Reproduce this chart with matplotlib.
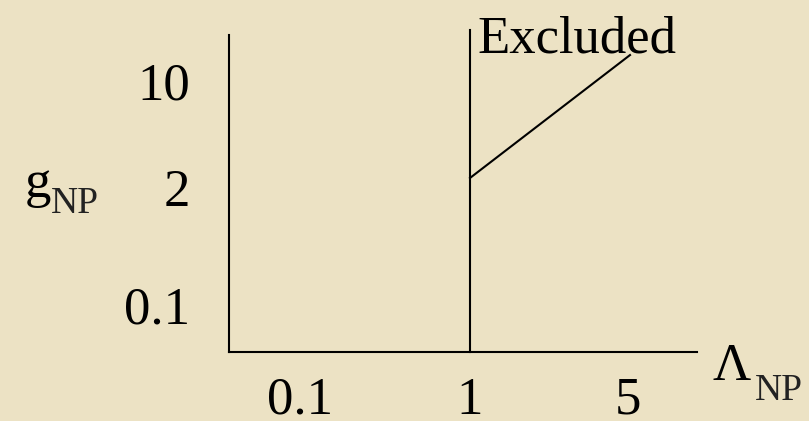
import matplotlib.pyplot as plt

plt.rcParams['font.family'] = ['Liberation Serif', 'DejaVu Serif']
plt.rcParams['mathtext.fontset'] = 'custom'
plt.rcParams['mathtext.rm'] = 'Liberation Serif'

# schematic scale, Lambda_NP = 1 sits at position 1
lambda_labels = ['0.1', '1', '5']
lambda_pos = [0.295, 1.0, 1.656]
g_labels = ['0.1', '2', '10']
g_pos = [0.294, 1.031, 1.694]

# boundary of the excluded region
cut_lambda = [1.0, 1.0]
cut_g = [0.0, 2.0125]
edge_lambda = [1.0, 1.664]
edge_g = [1.0875, 1.856]

bg = '#ece2c4'
fig = plt.figure(figsize=(8.09, 4.21), dpi=100, facecolor=bg)
ax = fig.add_axes([229 / 809, 69 / 421, 468 / 809, 322 / 421])
ax.set_facecolor(bg)
ax.patch.set_alpha(0)
ax.set_xlim(0, 1.942)
ax.set_ylim(0, 2.0125)

for s in ['top', 'right']:
    ax.spines[s].set_visible(False)
ax.spines['left'].set_bounds(0, 1.98)
ax.spines['left'].set_linewidth(1.5)
ax.spines['bottom'].set_linewidth(1.5)

ax.plot(cut_lambda, cut_g, color='black', lw=1.5, clip_on=False)
ax.plot(edge_lambda, edge_g, color='black', lw=1.5, clip_on=False)
ax.text(1.03, 1.87, 'Excluded', fontsize=38, ha='left', va='baseline')

ax.set_xticks(lambda_pos)
ax.set_xticklabels(lambda_labels)
ax.set_yticks(g_pos)
ax.set_yticklabels(g_labels)
ax.tick_params(length=0, labelsize=38)
ax.tick_params(axis='x', pad=18)
ax.tick_params(axis='y', pad=28)

# axis names: big symbol plus a dropped, smaller subscript
def symbol(x, y, main, sub, dx, dy):
    fig.text(x / 809, 1 - y / 421, main, fontsize=38, ha='left', va='baseline')
    fig.text((x + dx) / 809, 1 - (y + dy) / 421, sub, fontsize=27,
             ha='left', va='baseline', color='#222222')

symbol(25, 197, 'g', 'NP', 26, 16)
symbol(712, 380, r'$\Lambda$', 'NP', 43, 20)

fig.savefig('out.png', dpi=100, facecolor=bg)
